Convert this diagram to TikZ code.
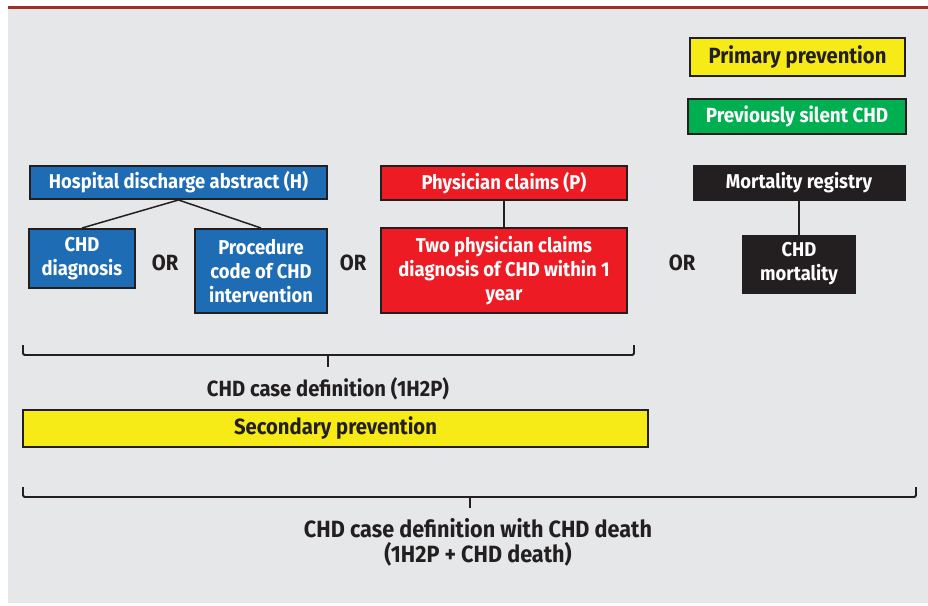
\documentclass[tikz,border=0pt]{standalone}
\usepackage{fontspec}
\setmainfont{Fira Sans}[FakeStretch=0.92]
\usepackage{tikz}
\usetikzlibrary{positioning, calc}
\usepackage{xcolor}
\definecolor{panelgray}{RGB}{230, 231, 232}
\definecolor{topred}{RGB}{160, 48, 46}
\definecolor{hospblue}{RGB}{30, 108, 180}
\definecolor{claimred}{RGB}{237, 28, 36}
\definecolor{prevyellow}{RGB}{246, 235, 22}
\definecolor{silentgreen}{RGB}{0, 176, 80}
\definecolor{inkblack}{RGB}{35, 31, 32}

\begin{document}
\begin{tikzpicture}[
    x=1pt, y=-1pt,
    % Node styles
    hospbox/.style={rectangle, draw=inkblack, line width=2pt, fill=hospblue, text=white, align=center, font=\fontsize{20}{24}\selectfont\bfseries, inner sep=2pt},
    claimbox/.style={rectangle, draw=inkblack, line width=2pt, fill=claimred, text=white, align=center, font=\fontsize{20}{24}\selectfont\bfseries, inner sep=2pt},
    mortbox/.style={rectangle, draw=inkblack, line width=1pt, fill=inkblack, text=white, align=center, font=\fontsize{20}{24}\selectfont\bfseries, inner sep=2pt},
    prevbox/.style={rectangle, draw=inkblack, line width=2pt, fill=prevyellow, text=inkblack, align=center, font=\fontsize{22}{24}\selectfont\bfseries, inner sep=2pt},
    silentbox/.style={rectangle, draw=inkblack, line width=2pt, fill=silentgreen, text=white, align=center, font=\fontsize{20.5}{24}\selectfont\bfseries, inner sep=2pt},
    orlabel/.style={text=inkblack, font=\fontsize{22}{24}\selectfont\bfseries},
    deflabel/.style={text=inkblack, align=center, font=\fontsize{22}{25}\selectfont\bfseries},
    % Line styles
    link/.style={line width=1.5pt, draw=inkblack},
    brace/.style={line width=1.8pt, draw=inkblack, rounded corners=1.5pt},
]
\useasboundingbox (0,0) rectangle (928,605);

% Background panel
\fill[panelgray] (8,9) rectangle (928,603);
\draw[topred, line width=3pt] (8,7) -- (928,7);

% Right column
\node (primary) [prevbox, minimum width=215, minimum height=38] at (797.5,57) {Primary prevention};
\node (silent) [silentbox, minimum width=218, minimum height=35] at (797,116.5) {Previously silent CHD};
\node (mortreg) [mortbox, minimum width=212, minimum height=35] at (799,182.5) {Mortality registry};
\node (chdmort) [mortbox, minimum width=113, minimum height=58] at (799,264) {CHD\\mortality};

% Hospital branch
\node (hospital) [hospbox, minimum width=297, minimum height=33] at (178.5,182.5) {Hospital discharge abstract (H)};
\node (chddiag) [hospbox, minimum width=106, minimum height=59] at (82,258.5) {CHD\\diagnosis};
\node (proccode) [hospbox, minimum width=132, minimum height=84] at (261,271) {Procedure\\code of CHD\\intervention};

% Physician branch
\node (physician) [claimbox, minimum width=246, minimum height=34] at (504,183) {Physician claims (P)};
\node (twoclaims) [claimbox, minimum width=246, minimum height=85] at (504,270.5) {Two physician claims\\diagnosis of CHD within 1\\year};

% OR labels
\node (or1) [orlabel] at (165,263) {OR};
\node (or2) [orlabel] at (353,263) {OR};
\node (or3) [orlabel] at (682,263) {OR};

% Links
\draw [link] (hospital.south) -- (chddiag.north);
\draw [link] (hospital.south) -- (proccode.north);
\draw [link] (physician) -- (twoclaims);
\draw [link] (mortreg) -- (chdmort);

% Case definition brace
\draw [brace] (23,345) -- (23,355) -- (634,355) -- (634,345);
\draw [link] (328,355) -- (328,367);
\node (casedef) [deflabel] at (328,389) {CHD case definition (1H2P)};

% Secondary prevention
\node (secondary) [prevbox, minimum width=625, minimum height=37] at (335.5,428.5) {Secondary prevention};

% Case definition with death brace
\draw [brace] (23,487) -- (23,497) -- (916,497) -- (916,487);
\draw [link] (470,497) -- (470,508);
\node (deathdef) [deflabel, font=\fontsize{23.5}{25}\selectfont\bfseries] at (478,542) {CHD case definition with CHD death\\(1H2P + CHD death)};

\end{tikzpicture}
\end{document}
